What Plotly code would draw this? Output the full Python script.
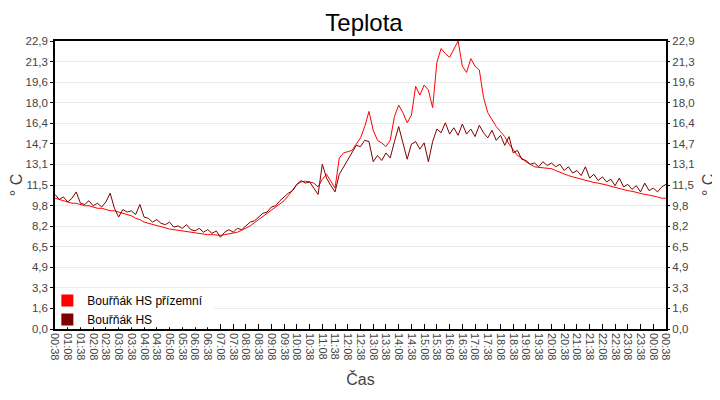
import pandas as pd
import plotly.graph_objects as go

# 10-minute samples, 00:38 -> 00:38 next day
start = "2024-05-01 00:38"

prizemni = [
    10.4, 10.3, 10.2, 10.1, 10.0, 10.0, 9.9, 9.8, 9.8, 9.7, 9.6, 9.6,
    9.5, 9.4, 9.4, 9.3, 9.2, 9.1, 9.0, 8.8, 8.7, 8.5, 8.4, 8.3,
    8.2, 8.1, 8.0, 7.95, 7.9, 7.85, 7.8, 7.75, 7.7, 7.6, 7.55, 7.55,
    7.5, 7.5, 7.45, 7.45, 7.5, 7.55, 7.6, 7.7, 7.85, 8.0, 8.2, 8.45,
    8.7, 8.9, 9.15, 9.4, 9.65, 9.9, 10.2, 10.6, 11.1, 11.5, 11.7, 11.75,
    11.7, 11.6, 11.3, 11.9, 12.3, 11.7, 11.2, 13.6, 14.0, 14.1, 14.2, 14.7,
    15.2, 16.1, 17.3, 15.8, 15.0, 14.8, 14.5, 15.0, 16.9, 17.8, 17.2, 16.4,
    17.0, 19.3, 18.6, 19.4, 19.0, 17.6, 21.2, 22.3, 21.9, 21.6, 22.2, 22.9,
    20.9, 20.4, 21.5, 20.9, 20.6, 18.4, 17.2, 16.6, 16.1, 15.7, 15.3, 14.7,
    14.2, 13.8, 13.6, 13.3, 13.1, 12.9, 12.85, 12.8, 12.8, 12.75, 12.6, 12.45,
    12.3, 12.2, 12.1, 12.0, 11.9, 11.8, 11.75, 11.65, 11.6, 11.55, 11.45, 11.35,
    11.25, 11.2, 11.1, 11.0, 10.95, 10.85, 10.8, 10.7, 10.65, 10.6, 10.5, 10.4,
    10.4,
]

hs = [
    10.7, 10.3, 10.5, 10.1, 10.4, 10.9, 10.0, 9.9, 10.2, 9.8, 10.0, 9.7,
    10.1, 10.8, 9.6, 8.9, 9.5, 9.3, 9.4, 9.1, 9.9, 8.9, 8.8, 8.5,
    8.7, 8.4, 8.3, 8.5, 8.1, 8.2, 8.0, 8.3, 7.9, 7.8, 8.0, 7.7,
    7.9, 7.6, 7.8, 7.3, 7.7, 7.9, 7.7, 8.0, 7.9, 8.2, 8.5, 8.6,
    8.9, 9.2, 9.3, 9.7, 9.8, 10.2, 10.5, 10.8, 11.0, 11.5, 11.8, 11.6,
    11.7, 11.2, 10.7, 13.1, 12.0, 11.4, 10.9, 12.3, 12.9, 13.5, 14.0, 14.6,
    14.5, 15.0, 14.9, 13.3, 13.8, 13.4, 14.0, 13.6, 14.9, 16.1, 14.8, 13.5,
    14.7, 14.9, 14.3, 14.8, 13.3, 14.9, 15.9, 15.6, 16.4, 15.5, 16.0, 15.4,
    16.3, 15.5, 15.9, 15.3, 16.2, 15.6, 15.2, 15.8, 15.0, 15.4, 14.6, 15.3,
    14.0, 14.2, 13.5, 13.4, 13.1, 13.2, 12.9, 13.3, 13.0, 13.2, 12.9, 13.1,
    12.6, 12.9, 12.4, 12.6, 12.2, 12.9, 12.0, 12.3, 11.8, 12.1, 11.7, 11.9,
    11.4, 12.0, 11.3, 11.5, 11.1, 11.4, 10.9, 11.6, 11.0, 11.2, 10.9, 11.3,
    11.5,
]

y_ticks = [0.0, 1.6, 3.3, 4.9, 6.5, 8.2, 9.8, 11.5, 13.1, 14.7, 16.4, 18.0, 19.6, 21.3, 22.9]
y_max = 22.9

times = pd.date_range(start, periods=len(hs), freq="10min")
x_ticks = pd.date_range(start, times[-1], freq="30min")
x_labels = [t.strftime("%H:%M") for t in x_ticks]
y_tickvals = [y_max * i / (len(y_ticks) - 1) for i in range(len(y_ticks))]
y_labels = [f"{v:.1f}".replace(".", ",") for v in y_ticks]

fig = go.Figure()
fig.add_trace(go.Scatter(x=times, y=prizemni, mode="lines", line=dict(color="#ff0000", width=1),
                         showlegend=False))
# second series sits on the right-hand axis (same scale) so that axis gets drawn
fig.add_trace(go.Scatter(x=times, y=hs, mode="lines", line=dict(color="#800000", width=1),
                         showlegend=False, yaxis="y2"))
# square legend keys
for name, col in [("Bouřňák HS přízemní", "#ff0000"), ("Bouřňák HS", "#800000")]:
    fig.add_trace(go.Scatter(x=[None], y=[None], mode="markers", name=name,
                             marker=dict(symbol="square", size=15, color=col)))

# white patch behind the legend (hides the grid line there)
fig.add_shape(type="rect", xref="paper", yref="paper", x0=0.003, x1=0.26, y0=0.006, y1=0.12,
              fillcolor="white", line_width=0, layer="above")

grey = "#444444"
# right axis title as annotation so it stays inside the page
fig.add_annotation(text="° C", xref="paper", yref="paper", x=1, y=0.5, xanchor="center",
                   yanchor="middle", xshift=42, textangle=-90, showarrow=False,
                   font=dict(size=16, color=grey))

# page body has an 8px margin, so the figure is shifted 8px right/down
fig.update_layout(
    width=712, height=384,
    margin=dict(l=47, r=54, t=33, b=63),
    paper_bgcolor="white", plot_bgcolor="white",
    font=dict(family="Liberation Sans, Arial, sans-serif", color=grey, size=12),
    title=dict(text="Teplota", x=0.5, xanchor="center", y=0.963, yanchor="middle",
               font=dict(size=24, color="black")),
    legend=dict(x=-0.0125, y=-0.017, xanchor="left", yanchor="bottom", bgcolor="rgba(0,0,0,0)",
                font=dict(size=12, color="black"), tracegroupgap=0, itemsizing="constant"),
    xaxis=dict(
        range=[times[0], times[-1]], tickvals=x_ticks, ticktext=x_labels, tickangle=90,
        ticks="inside", ticklen=5, tickcolor="black", tickfont=dict(size=11, color=grey),
        showline=True, linecolor="black", linewidth=1.5, mirror=True, showgrid=False,
        zeroline=False, automargin=False,
        title=dict(text="Čas", font=dict(size=16, color=grey), standoff=14),
    ),
    yaxis=dict(
        range=[0, y_max], tickvals=y_tickvals, ticktext=y_labels, ticks="outside", ticklen=3,
        tickcolor="black", showline=True, linecolor="black", linewidth=1.5, mirror=True,
        showgrid=True, gridcolor="#ebebeb", zeroline=False, tickfont=dict(size=11.5, color=grey),
        automargin=False, title=dict(text="° C", font=dict(size=16, color=grey), standoff=2),
    ),
    yaxis2=dict(
        range=[0, y_max], tickvals=y_tickvals, ticktext=y_labels, ticks="outside", ticklen=3,
        tickcolor="black", overlaying="y", side="right", showgrid=False, zeroline=False,
        showline=False, tickfont=dict(size=11.5, color=grey), automargin=False,
    ),
)

fig.write_html("out.html")
